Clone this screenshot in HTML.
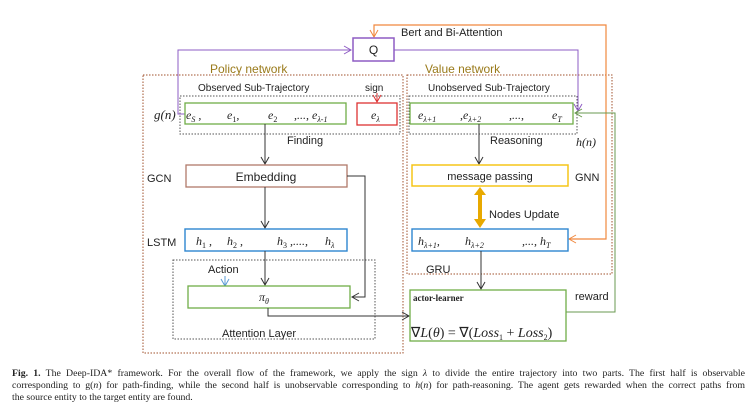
<!DOCTYPE html>
<html><head><meta charset="utf-8"><style>
html,body{margin:0;padding:0;background:#fff;width:753px;height:403px;overflow:hidden}
svg{position:absolute;left:0;top:0}
.s{font-family:"Liberation Sans",sans-serif;font-size:11px;fill:#222}
.m{font-family:"Liberation Serif",serif;font-style:italic;font-size:12px;fill:#222}
.sub{font-size:8px}
.cap{position:absolute;left:12px;width:733px;font-family:"Liberation Serif",serif;font-size:9.8px;color:#222;line-height:12px}
.j{text-align:justify;text-align-last:justify;white-space:nowrap}
</style></head><body>
<svg width="753" height="403" viewBox="0 0 753 403">
<defs>
<marker id="a" markerWidth="10" markerHeight="10" refX="8" refY="5" orient="auto" markerUnits="userSpaceOnUse"><path d="M1,1 L8,5 L1,9" fill="none" stroke="#333" stroke-width="1"/></marker>
<marker id="ap" markerWidth="10" markerHeight="10" refX="8" refY="5" orient="auto" markerUnits="userSpaceOnUse"><path d="M1,1 L8,5 L1,9" fill="none" stroke="#8e5cc4" stroke-width="1"/></marker>
<marker id="ao" markerWidth="10" markerHeight="10" refX="8" refY="5" orient="auto" markerUnits="userSpaceOnUse"><path d="M1,1 L8,5 L1,9" fill="none" stroke="#f0883e" stroke-width="1"/></marker>
<marker id="ar" markerWidth="10" markerHeight="10" refX="8" refY="5" orient="auto" markerUnits="userSpaceOnUse"><path d="M1,1 L8,5 L1,9" fill="none" stroke="#d33" stroke-width="1"/></marker>
<marker id="ag" markerWidth="10" markerHeight="10" refX="8" refY="5" orient="auto" markerUnits="userSpaceOnUse"><path d="M1,1 L8,5 L1,9" fill="none" stroke="#6a9a50" stroke-width="1"/></marker>
<marker id="ab" markerWidth="10" markerHeight="10" refX="8" refY="5" orient="auto" markerUnits="userSpaceOnUse"><path d="M1,1 L8,5 L1,9" fill="none" stroke="#5b9bd5" stroke-width="1"/></marker>
</defs>
<rect x="143" y="75" width="260" height="278" fill="none" stroke="#a0522d" stroke-width="1" stroke-dasharray="1.5,1.5"/>
<rect x="407" y="75" width="205" height="199" fill="none" stroke="#a0522d" stroke-width="1" stroke-dasharray="1.5,1.5"/>
<rect x="180" y="96" width="220" height="38" fill="none" stroke="#555" stroke-width="1" stroke-dasharray="1.5,1.5"/>
<rect x="409" y="96" width="168" height="38" fill="none" stroke="#555" stroke-width="1" stroke-dasharray="1.5,1.5"/>
<rect x="173" y="260" width="202" height="79" fill="none" stroke="#555" stroke-width="1" stroke-dasharray="1.5,1.5"/>
<text x="210" y="73" class="s" style="fill:#9a7a1a;font-size:12px">Policy network</text>
<text x="425" y="73" class="s" style="fill:#9a7a1a;font-size:12px">Value network</text>
<path d="M374,37 L374,25 L606,25 L606,239 L569,239" fill="none" stroke="#f0883e" stroke-width="1.2" marker-end="url(#ao)"/>
<path d="M374,28 L374,37" stroke="#f0883e" marker-end="url(#ao)"/>
<text x="401" y="36" class="s">Bert and Bi-Attention</text>
<rect x="353" y="38" width="41" height="23" fill="#fff" stroke="#8e5cc4" stroke-width="1.5"/>
<text x="373.5" y="54" class="s" text-anchor="middle" style="font-size:12px">Q</text>
<path d="M185,114 L178,114 L178,50 L351,50" fill="none" stroke="#8e5cc4" stroke-width="1" marker-end="url(#ap)"/>
<path d="M394,50 L578,50 L578,111" fill="none" stroke="#8e5cc4" stroke-width="1" marker-end="url(#ap)"/>
<path d="M566,312 L615,312 L615,113 L575,113" fill="none" stroke="#6a9a50" stroke-width="1" marker-end="url(#ag)"/>
<text x="575" y="300" class="s">reward</text>
<text x="198" y="91" class="s" style="font-size:10px">Observed Sub-Trajectory</text>
<text x="365" y="91" class="s" style="font-size:10px">sign</text>
<path d="M377,93 L377,102" stroke="#d33" marker-end="url(#ar)"/>
<text x="428" y="91" class="s" style="font-size:10px">Unobserved Sub-Trajectory</text>
<rect x="185" y="103" width="161" height="21" fill="#fff" stroke="#70ad47" stroke-width="1.3"/>
<rect x="357" y="103" width="40" height="22" fill="#fff" stroke="#d33" stroke-width="1.3"/>
<rect x="410" y="103" width="163" height="21" fill="#fff" stroke="#70ad47" stroke-width="1.3"/>
<text x="154" y="119" class="m" style="font-size:13px">g(n)</text>
<text x="186" y="119" class="m">e<tspan class="sub" dy="3">S</tspan><tspan dy="-3"> ,</tspan></text>
<text x="227" y="119" class="m">e<tspan class="sub" dy="3" style="font-style:normal">1</tspan><tspan dy="-3">,</tspan></text>
<text x="268" y="119" class="m">e<tspan class="sub" dy="3" style="font-style:normal">2</tspan></text>
<text x="294" y="119" class="m">,...,  e<tspan class="sub" dy="3">λ-1</tspan></text>
<text x="371" y="119" class="m">e<tspan class="sub" dy="3">λ</tspan></text>
<text x="418" y="119" class="m">e<tspan class="sub" dy="3">λ+1</tspan></text>
<text x="460" y="119" class="m">,e<tspan class="sub" dy="3">λ+2</tspan></text>
<text x="509" y="119" class="m">,...,</text>
<text x="552" y="119" class="m">e<tspan class="sub" dy="3">T</tspan></text>
<text x="287" y="144" class="s">Finding</text>
<text x="490" y="144" class="s">Reasoning</text>
<text x="576" y="146" class="m">h(n)</text>
<path d="M265,124 L265,164" stroke="#333" marker-end="url(#a)"/>
<path d="M479,124 L479,164" stroke="#333" marker-end="url(#a)"/>
<text x="147" y="182" class="s">GCN</text>
<rect x="186" y="165" width="161" height="22" fill="#fff" stroke="#b07a6a" stroke-width="1.3"/>
<text x="266" y="181" class="s" text-anchor="middle" style="font-size:12px">Embedding</text>
<rect x="412" y="165" width="156" height="21" fill="#fff" stroke="#f5c518" stroke-width="1.5"/>
<text x="490" y="180" class="s" text-anchor="middle">message passing</text>
<text x="575" y="181" class="s">GNN</text>
<path d="M347,176 L365,176 L365,297 L352,297" fill="none" stroke="#333" marker-end="url(#a)"/>
<path d="M265,187 L265,228" stroke="#333" marker-end="url(#a)"/>
<path d="M480,194 L480,220" stroke="#e8a900" stroke-width="4"/>
<path d="M474,195 L480,187 L486,195 Z M474,219 L480,228 L486,219 Z" fill="#e8a900"/>
<text x="489" y="218" class="s">Nodes Update</text>
<text x="147" y="246" class="s">LSTM</text>
<rect x="185" y="229" width="162" height="22" fill="#fff" stroke="#2e86d0" stroke-width="1.4"/>
<text x="196" y="245" class="m">h<tspan class="sub" dy="3" style="font-style:normal">1</tspan><tspan dy="-3"> ,</tspan></text>
<text x="227" y="245" class="m">h<tspan class="sub" dy="3" style="font-style:normal">2</tspan><tspan dy="-3"> ,</tspan></text>
<text x="277" y="245" class="m">h<tspan class="sub" dy="3" style="font-style:normal">3</tspan><tspan dy="-3"> ,....,</tspan></text>
<text x="325" y="245" class="m">h<tspan class="sub" dy="3">λ</tspan></text>
<rect x="412" y="229" width="156" height="22" fill="#fff" stroke="#2e86d0" stroke-width="1.4"/>
<text x="418" y="245" class="m">h<tspan class="sub" dy="3">λ+1</tspan><tspan dy="-3">,</tspan></text>
<text x="465" y="245" class="m">h<tspan class="sub" dy="3">λ+2</tspan></text>
<text x="522" y="245" class="m">,...,  h<tspan class="sub" dy="3">T</tspan></text>
<text x="426" y="273" class="s">GRU</text>
<path d="M481,251 L481,289" stroke="#333" marker-end="url(#a)"/>
<path d="M265,251 L265,285" stroke="#333" marker-end="url(#a)"/>
<text x="208" y="273" class="s">Action</text>
<path d="M225,276 L225,286" stroke="#5b9bd5" marker-end="url(#ab)"/>
<rect x="188" y="286" width="162" height="22" fill="#fff" stroke="#70ad47" stroke-width="1.3"/>
<text x="259" y="301" class="m">π<tspan class="sub" dy="3">θ</tspan></text>
<path d="M268,308 L268,316 L409,316" fill="none" stroke="#333" marker-end="url(#a)"/>
<text x="222" y="337" class="s">Attention Layer</text>
<rect x="410" y="290" width="156" height="51" fill="#fff" stroke="#70ad47" stroke-width="1.3"/>
<text x="413" y="301" style="font-family:'Liberation Serif',serif;font-weight:bold;font-size:9px;fill:#222">actor-learner</text>
<text x="411" y="337" style="font-family:'Liberation Serif',serif;font-size:14px;fill:#222">∇<tspan font-style="italic">L</tspan>(<tspan font-style="italic">θ</tspan>) = ∇(<tspan font-style="italic">Loss</tspan><tspan font-size="8" dy="3">1</tspan><tspan dy="-3"> + </tspan><tspan font-style="italic">Loss</tspan><tspan font-size="8" dy="3">2</tspan><tspan dy="-3">)</tspan></text>
</svg>
<div class="cap j" style="top:368px"><b>Fig. 1.</b> The Deep-IDA* framework. For the overall flow of the framework, we apply the sign <i>λ</i> to divide the entire trajectory into two parts. The first half is observable</div>
<div class="cap j" style="top:380px">corresponding to g(<i>n</i>) for path-finding, while the second half is unobservable corresponding to <i>h</i>(<i>n</i>) for path-reasoning. The agent gets rewarded when the correct paths from</div>
<div class="cap" style="top:392px">the source entity to the target entity are found.</div>
</body></html>
